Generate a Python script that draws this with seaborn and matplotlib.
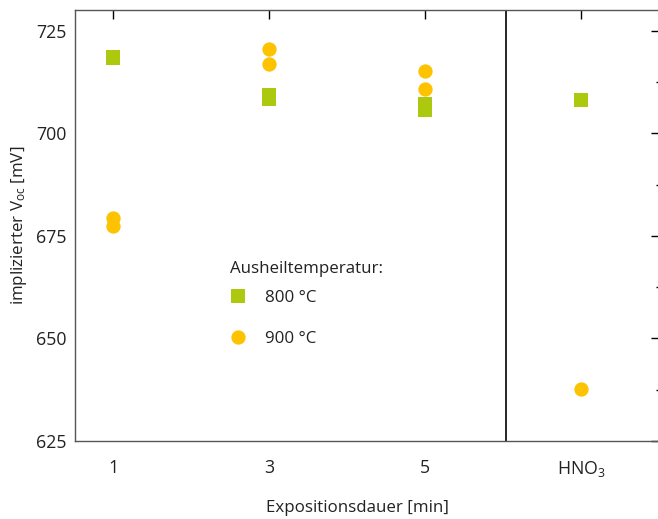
import matplotlib
matplotlib.use("Agg")
import matplotlib.pyplot as plt
import seaborn as sns
import pandas as pd
from matplotlib.ticker import MultipleLocator
from matplotlib.lines import Line2D

# ---- data ----
categories = ["1", "3", "5", "HNO$_3$"]
x_800 = ["1", "1", "3", "3", "5", "5", "HNO$_3$"]
v_800 = [718.7, 718.3, 709.3, 708.4, 707.1, 705.6, 708.2]
x_900 = ["1", "1", "3", "3", "5", "5", "HNO$_3$"]
v_900 = [679.3, 677.4, 720.5, 717.0, 715.2, 710.8, 637.7]
series_labels = ["800 °C", "900 °C"]
legend_title = "Ausheiltemperatur:"
xlabel = "Expositionsdauer [min]"
ylabel = "implizierter V$_\\mathregular{oc}$ [mV]"

green = "#adc90f"
yellow = "#fdc300"
FS = 12.2
TFS = 12.8

sns.set_theme(style="white")
plt.rcParams["font.family"] = ["Open Sans", "DejaVu Sans"]
plt.rcParams["mathtext.default"] = "regular"
plt.rcParams["font.size"] = FS

df = pd.DataFrame({
    "x": x_800 + x_900,
    "v": v_800 + v_900,
    "T": [series_labels[0]] * len(v_800) + [series_labels[1]] * len(v_900),
})
df["x"] = pd.Categorical(df["x"], categories=categories, ordered=True)
df["pos"] = df["x"].cat.codes

fig = plt.figure(figsize=(6.58, 5.19), dpi=100)
ax = fig.add_axes([75 / 658, 1 - 441 / 519, (660 - 75) / 658, (441 - 10) / 519])

sns.scatterplot(data=df[df["T"] == series_labels[0]], x="pos", y="v", marker="s", s=92,
                color=green, linewidth=0, zorder=3, ax=ax, legend=False)
sns.scatterplot(data=df[df["T"] == series_labels[1]], x="pos", y="v", marker="o", s=106,
                color=yellow, linewidth=0, zorder=3, ax=ax, legend=False)

ax.set_xticks(range(len(categories)))
ax.set_xticklabels(categories)
ax.set_xlim(-0.244, 3.506)
ax.set_ylim(625, 730.1)
ax.yaxis.set_major_locator(MultipleLocator(25))
ax.yaxis.set_minor_locator(MultipleLocator(12.5))
ax.axvline(2.52, color="black", lw=1.2, zorder=2)

for sp in ax.spines.values():
    sp.set_visible(True)
    sp.set_color("#555555")
    sp.set_linewidth(1.0)

ax.tick_params(axis="both", which="both", direction="in", top=True, right=True,
               color="black", width=1.0, labelsize=TFS, labelcolor="#222222")
ax.tick_params(axis="both", which="major", length=6.5)
ax.tick_params(axis="both", which="minor", length=3)
ax.tick_params(axis="y", pad=6)
ax.tick_params(axis="x", pad=13)
ax.tick_params(axis="x", which="minor", bottom=False, top=False)

ax.set_xlabel(xlabel, fontsize=FS, color="#222222")
ax.xaxis.set_label_coords(0.482, -0.137)
ax.set_ylabel(ylabel, fontsize=FS, color="#222222", labelpad=5)

ax.text(0.265, 0.4, legend_title, transform=ax.transAxes, fontsize=FS,
        color="#222222", ha="left", va="center")
handles = [
    Line2D([], [], marker="s", ls="", color=green, markersize=9.6, markeredgewidth=0),
    Line2D([], [], marker="o", ls="", color=yellow, markersize=10.3, markeredgewidth=0),
]
leg = ax.legend(handles, series_labels, loc="upper left",
                bbox_to_anchor=(0.265, 0.351), frameon=False, borderpad=0,
                borderaxespad=0, handlelength=0.9, handletextpad=1.15,
                labelspacing=1.47, fontsize=FS)
for t in leg.get_texts():
    t.set_color("#222222")

sns.despine(ax=ax, top=False, right=False)
fig.savefig("out.png", dpi=100)
